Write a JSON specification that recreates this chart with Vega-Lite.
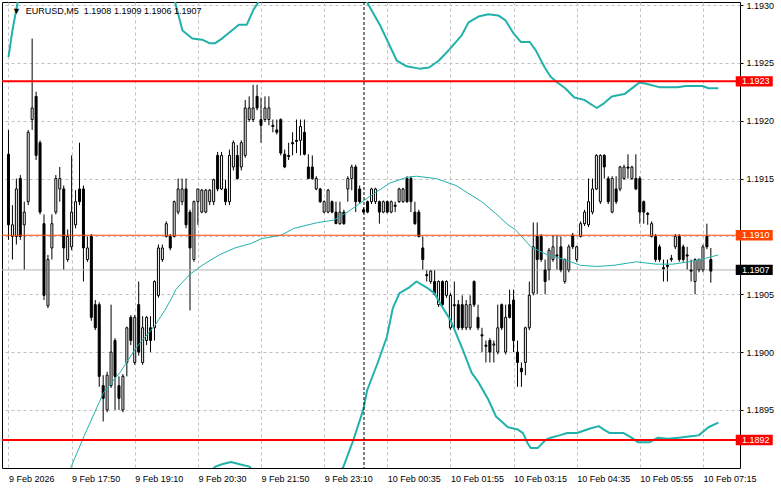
{
"$schema": "https://vega.github.io/schema/vega-lite/v6.json",
"width": 738, "height": 466,
"autosize": {"type": "none"},
"padding": {"left": 2, "top": 2, "right": 41, "bottom": 21},
"background": "white",
"config": {"view": {"stroke": "black", "strokeWidth": 1}, "font": "Liberation Sans",
 "axisX": {"grid":true,"gridColor":"#c0c0c0","gridDash":[3,3],"gridWidth":1,"domain":false,
    "tickSize":4,"tickColor":"black","tickOpacity":{"condition":{"test":"datum.value % 16 === 0","value":1},"value":0},
    "labelExpr":"datum.value % 16 === 0 ? ['9 Feb 2026','9 Feb 17:50','9 Feb 19:10','9 Feb 20:30','9 Feb 21:50','9 Feb 23:10','10 Feb 00:35','10 Feb 01:55','10 Feb 03:15','10 Feb 04:35','10 Feb 05:55','10 Feb 07:15'][datum.value / 16] : ''",
    "labelAlign":"left","labelBaseline":"top","labelPadding":2,"labelFont":"Liberation Sans","labelFontSize":9,"labelColor":"black",
    "labelOverlap":false,"labelBound":false,"labelFlush":false,"title":null},
 "axisY": {"grid":true,"gridColor":"#c0c0c0","gridDash":[3,3],"gridWidth":1,"domain":false,
    "tickSize":3,"tickColor":"black","labelPadding":3,"labelFont":"Liberation Sans","labelFontSize":9,"labelColor":"black",
    "labelAlign":"left","labelBaseline":"middle",
    "labelExpr":"abs(datum.value - 1.191) < 0.00001 ? '' : datum.label",
    "labelOverlap":false,"labelFlush":false,"labelBound":false,"title":null}
},
"datasets": {
"candles": [
{"i":0,"o":1.19171,"h":1.19192,"l":1.19097,"c":1.19110},
{"i":1,"o":1.19100,"h":1.19127,"l":1.19080,"c":1.19110},
{"i":2,"o":1.19100,"h":1.19150,"l":1.19093,"c":1.19141},
{"i":3,"o":1.19150,"h":1.19153,"l":1.19097,"c":1.19100},
{"i":4,"o":1.19110,"h":1.19130,"l":1.19071,"c":1.19121},
{"i":5,"o":1.19130,"h":1.19192,"l":1.19127,"c":1.19190},
{"i":6,"o":1.19201,"h":1.19271,"l":1.19192,"c":1.19211},
{"i":7,"o":1.19221,"h":1.19225,"l":1.19166,"c":1.19170},
{"i":8,"o":1.19181,"h":1.19183,"l":1.19119,"c":1.19121},
{"i":9,"o":1.19111,"h":1.19119,"l":1.19045,"c":1.19049},
{"i":10,"o":1.19040,"h":1.19084,"l":1.19038,"c":1.19080},
{"i":11,"o":1.19090,"h":1.19119,"l":1.19080,"c":1.19111},
{"i":12,"o":1.19121,"h":1.19153,"l":1.19119,"c":1.19150},
{"i":13,"o":1.19141,"h":1.19160,"l":1.19130,"c":1.19150},
{"i":14,"o":1.19141,"h":1.19144,"l":1.19071,"c":1.19090},
{"i":15,"o":1.19080,"h":1.19106,"l":1.19078,"c":1.19100},
{"i":16,"o":1.19091,"h":1.19170,"l":1.19088,"c":1.19121},
{"i":17,"o":1.19110,"h":1.19140,"l":1.19107,"c":1.19130},
{"i":18,"o":1.19141,"h":1.19181,"l":1.19127,"c":1.19130},
{"i":19,"o":1.19141,"h":1.19144,"l":1.19061,"c":1.19090},
{"i":20,"o":1.19080,"h":1.19100,"l":1.19078,"c":1.19090},
{"i":21,"o":1.19100,"h":1.19102,"l":1.19027,"c":1.19030},
{"i":22,"o":1.19041,"h":1.19045,"l":1.19019,"c":1.19021},
{"i":23,"o":1.19041,"h":1.19043,"l":1.18970,"c":1.18979},
{"i":24,"o":1.18971,"h":1.18980,"l":1.18940,"c":1.18960},
{"i":25,"o":1.18950,"h":1.18983,"l":1.18948,"c":1.18980},
{"i":26,"o":1.18971,"h":1.19041,"l":1.18969,"c":1.19000},
{"i":27,"o":1.19010,"h":1.19012,"l":1.18950,"c":1.18979},
{"i":28,"o":1.18971,"h":1.18979,"l":1.18950,"c":1.18960},
{"i":29,"o":1.18950,"h":1.18981,"l":1.18948,"c":1.18979},
{"i":30,"o":1.18991,"h":1.19022,"l":1.18979,"c":1.19021},
{"i":31,"o":1.19030,"h":1.19032,"l":1.19006,"c":1.19010},
{"i":32,"o":1.18991,"h":1.19032,"l":1.18989,"c":1.19030},
{"i":33,"o":1.19041,"h":1.19061,"l":1.18997,"c":1.19000},
{"i":34,"o":1.18991,"h":1.19031,"l":1.18989,"c":1.19021},
{"i":35,"o":1.19010,"h":1.19031,"l":1.19006,"c":1.19030},
{"i":36,"o":1.19021,"h":1.19031,"l":1.19000,"c":1.19010},
{"i":37,"o":1.19021,"h":1.19062,"l":1.19010,"c":1.19061},
{"i":38,"o":1.19049,"h":1.19093,"l":1.19047,"c":1.19090},
{"i":39,"o":1.19080,"h":1.19093,"l":1.19078,"c":1.19090},
{"i":40,"o":1.19100,"h":1.19113,"l":1.19099,"c":1.19111},
{"i":41,"o":1.19100,"h":1.19102,"l":1.19088,"c":1.19090},
{"i":42,"o":1.19100,"h":1.19131,"l":1.19099,"c":1.19130},
{"i":43,"o":1.19121,"h":1.19150,"l":1.19119,"c":1.19141},
{"i":44,"o":1.19130,"h":1.19150,"l":1.19127,"c":1.19141},
{"i":45,"o":1.19141,"h":1.19150,"l":1.19107,"c":1.19110},
{"i":46,"o":1.19121,"h":1.19123,"l":1.19036,"c":1.19090},
{"i":47,"o":1.19080,"h":1.19131,"l":1.19078,"c":1.19130},
{"i":48,"o":1.19130,"h":1.19141,"l":1.19110,"c":1.19141},
{"i":49,"o":1.19121,"h":1.19141,"l":1.19120,"c":1.19140},
{"i":50,"o":1.19121,"h":1.19141,"l":1.19120,"c":1.19140},
{"i":51,"o":1.19130,"h":1.19141,"l":1.19127,"c":1.19140},
{"i":52,"o":1.19130,"h":1.19150,"l":1.19127,"c":1.19149},
{"i":53,"o":1.19170,"h":1.19173,"l":1.19139,"c":1.19141},
{"i":54,"o":1.19141,"h":1.19173,"l":1.19140,"c":1.19170},
{"i":55,"o":1.19141,"h":1.19149,"l":1.19127,"c":1.19130},
{"i":56,"o":1.19130,"h":1.19175,"l":1.19127,"c":1.19170},
{"i":57,"o":1.19160,"h":1.19183,"l":1.19157,"c":1.19181},
{"i":58,"o":1.19170,"h":1.19179,"l":1.19149,"c":1.19150},
{"i":59,"o":1.19160,"h":1.19183,"l":1.19157,"c":1.19181},
{"i":60,"o":1.19170,"h":1.19218,"l":1.19168,"c":1.19211},
{"i":61,"o":1.19201,"h":1.19221,"l":1.19199,"c":1.19211},
{"i":62,"o":1.19201,"h":1.19231,"l":1.19199,"c":1.19211},
{"i":63,"o":1.19221,"h":1.19231,"l":1.19209,"c":1.19211},
{"i":64,"o":1.19201,"h":1.19220,"l":1.19181,"c":1.19196},
{"i":65,"o":1.19201,"h":1.19221,"l":1.19199,"c":1.19211},
{"i":66,"o":1.19201,"h":1.19221,"l":1.19196,"c":1.19211},
{"i":67,"o":1.19196,"h":1.19201,"l":1.19190,"c":1.19195},
{"i":68,"o":1.19192,"h":1.19201,"l":1.19188,"c":1.19190},
{"i":69,"o":1.19201,"h":1.19202,"l":1.19170,"c":1.19172},
{"i":70,"o":1.19171,"h":1.19175,"l":1.19159,"c":1.19160},
{"i":71,"o":1.19170,"h":1.19181,"l":1.19166,"c":1.19169},
{"i":72,"o":1.19181,"h":1.19190,"l":1.19170,"c":1.19180},
{"i":73,"o":1.19183,"h":1.19201,"l":1.19172,"c":1.19182},
{"i":74,"o":1.19183,"h":1.19201,"l":1.19170,"c":1.19195},
{"i":75,"o":1.19190,"h":1.19201,"l":1.19170,"c":1.19171},
{"i":76,"o":1.19160,"h":1.19171,"l":1.19150,"c":1.19150},
{"i":77,"o":1.19160,"h":1.19170,"l":1.19149,"c":1.19150},
{"i":78,"o":1.19141,"h":1.19152,"l":1.19140,"c":1.19150},
{"i":79,"o":1.19141,"h":1.19142,"l":1.19129,"c":1.19130},
{"i":80,"o":1.19121,"h":1.19131,"l":1.19120,"c":1.19130},
{"i":81,"o":1.19121,"h":1.19141,"l":1.19120,"c":1.19140},
{"i":82,"o":1.19130,"h":1.19131,"l":1.19120,"c":1.19121},
{"i":83,"o":1.19121,"h":1.19130,"l":1.19111,"c":1.19111},
{"i":84,"o":1.19111,"h":1.19130,"l":1.19110,"c":1.19121},
{"i":85,"o":1.19121,"h":1.19123,"l":1.19110,"c":1.19111},
{"i":86,"o":1.19141,"h":1.19152,"l":1.19130,"c":1.19150},
{"i":87,"o":1.19150,"h":1.19162,"l":1.19140,"c":1.19160},
{"i":88,"o":1.19160,"h":1.19162,"l":1.19121,"c":1.19130},
{"i":89,"o":1.19141,"h":1.19144,"l":1.19128,"c":1.19130},
{"i":90,"o":1.19123,"h":1.19125,"l":1.19120,"c":1.19121},
{"i":91,"o":1.19130,"h":1.19131,"l":1.19120,"c":1.19121},
{"i":92,"o":1.19130,"h":1.19142,"l":1.19128,"c":1.19141},
{"i":93,"o":1.19130,"h":1.19142,"l":1.19128,"c":1.19141},
{"i":94,"o":1.19130,"h":1.19131,"l":1.19111,"c":1.19121},
{"i":95,"o":1.19121,"h":1.19131,"l":1.19120,"c":1.19130},
{"i":96,"o":1.19130,"h":1.19131,"l":1.19120,"c":1.19121},
{"i":97,"o":1.19121,"h":1.19131,"l":1.19120,"c":1.19130},
{"i":98,"o":1.19127,"h":1.19130,"l":1.19121,"c":1.19126},
{"i":99,"o":1.19130,"h":1.19142,"l":1.19129,"c":1.19141},
{"i":100,"o":1.19130,"h":1.19142,"l":1.19129,"c":1.19141},
{"i":101,"o":1.19150,"h":1.19152,"l":1.19129,"c":1.19130},
{"i":102,"o":1.19150,"h":1.19152,"l":1.19121,"c":1.19130},
{"i":103,"o":1.19121,"h":1.19130,"l":1.19110,"c":1.19111},
{"i":104,"o":1.19121,"h":1.19123,"l":1.19099,"c":1.19100},
{"i":105,"o":1.19090,"h":1.19100,"l":1.19071,"c":1.19080},
{"i":106,"o":1.19067,"h":1.19071,"l":1.19061,"c":1.19066},
{"i":107,"o":1.19061,"h":1.19071,"l":1.19059,"c":1.19070},
{"i":108,"o":1.19061,"h":1.19071,"l":1.19049,"c":1.19050},
{"i":109,"o":1.19041,"h":1.19062,"l":1.19039,"c":1.19061},
{"i":110,"o":1.19061,"h":1.19062,"l":1.19040,"c":1.19041},
{"i":111,"o":1.19049,"h":1.19062,"l":1.19047,"c":1.19061},
{"i":112,"o":1.19021,"h":1.19051,"l":1.19019,"c":1.19049},
{"i":113,"o":1.19041,"h":1.19061,"l":1.19021,"c":1.19040},
{"i":114,"o":1.19041,"h":1.19045,"l":1.19019,"c":1.19021},
{"i":115,"o":1.19041,"h":1.19049,"l":1.19019,"c":1.19021},
{"i":116,"o":1.19021,"h":1.19045,"l":1.19019,"c":1.19041},
{"i":117,"o":1.19021,"h":1.19049,"l":1.19019,"c":1.19041},
{"i":118,"o":1.19061,"h":1.19062,"l":1.19039,"c":1.19041},
{"i":119,"o":1.19030,"h":1.19041,"l":1.19019,"c":1.19021},
{"i":120,"o":1.19015,"h":1.19021,"l":1.19000,"c":1.19014},
{"i":121,"o":1.19006,"h":1.19010,"l":1.18991,"c":1.19005},
{"i":122,"o":1.19010,"h":1.19012,"l":1.18991,"c":1.19000},
{"i":123,"o":1.19006,"h":1.19010,"l":1.18991,"c":1.19007},
{"i":124,"o":1.19000,"h":1.19041,"l":1.18998,"c":1.19021},
{"i":125,"o":1.19041,"h":1.19042,"l":1.19019,"c":1.19021},
{"i":126,"o":1.19000,"h":1.19041,"l":1.18998,"c":1.19030},
{"i":127,"o":1.19041,"h":1.19054,"l":1.19029,"c":1.19030},
{"i":128,"o":1.19045,"h":1.19054,"l":1.19000,"c":1.19010},
{"i":129,"o":1.19000,"h":1.19010,"l":1.18970,"c":1.18991},
{"i":130,"o":1.18986,"h":1.18991,"l":1.18970,"c":1.18983},
{"i":131,"o":1.18991,"h":1.19022,"l":1.18980,"c":1.19021},
{"i":132,"o":1.19021,"h":1.19061,"l":1.19019,"c":1.19049},
{"i":133,"o":1.19051,"h":1.19112,"l":1.19049,"c":1.19091},
{"i":134,"o":1.19100,"h":1.19112,"l":1.19050,"c":1.19080},
{"i":135,"o":1.19100,"h":1.19102,"l":1.19078,"c":1.19080},
{"i":136,"o":1.19071,"h":1.19080,"l":1.19050,"c":1.19061},
{"i":137,"o":1.19071,"h":1.19090,"l":1.19062,"c":1.19088},
{"i":138,"o":1.19080,"h":1.19101,"l":1.19078,"c":1.19091},
{"i":139,"o":1.19084,"h":1.19101,"l":1.19071,"c":1.19083},
{"i":140,"o":1.19091,"h":1.19100,"l":1.19069,"c":1.19071},
{"i":141,"o":1.19061,"h":1.19081,"l":1.19059,"c":1.19080},
{"i":142,"o":1.19071,"h":1.19093,"l":1.19069,"c":1.19091},
{"i":143,"o":1.19101,"h":1.19103,"l":1.19089,"c":1.19091},
{"i":144,"o":1.19080,"h":1.19092,"l":1.19078,"c":1.19091},
{"i":145,"o":1.19100,"h":1.19113,"l":1.19099,"c":1.19111},
{"i":146,"o":1.19111,"h":1.19123,"l":1.19109,"c":1.19121},
{"i":147,"o":1.19110,"h":1.19150,"l":1.19108,"c":1.19130},
{"i":148,"o":1.19121,"h":1.19150,"l":1.19119,"c":1.19141},
{"i":149,"o":1.19141,"h":1.19171,"l":1.19140,"c":1.19170},
{"i":150,"o":1.19130,"h":1.19171,"l":1.19128,"c":1.19170},
{"i":151,"o":1.19170,"h":1.19171,"l":1.19150,"c":1.19160},
{"i":152,"o":1.19150,"h":1.19152,"l":1.19128,"c":1.19130},
{"i":153,"o":1.19121,"h":1.19152,"l":1.19120,"c":1.19150},
{"i":154,"o":1.19141,"h":1.19152,"l":1.19128,"c":1.19130},
{"i":155,"o":1.19141,"h":1.19161,"l":1.19139,"c":1.19160},
{"i":156,"o":1.19150,"h":1.19162,"l":1.19149,"c":1.19160},
{"i":157,"o":1.19160,"h":1.19171,"l":1.19150,"c":1.19159},
{"i":158,"o":1.19150,"h":1.19161,"l":1.19149,"c":1.19160},
{"i":159,"o":1.19150,"h":1.19171,"l":1.19140,"c":1.19141},
{"i":160,"o":1.19150,"h":1.19152,"l":1.19111,"c":1.19121},
{"i":161,"o":1.19130,"h":1.19131,"l":1.19111,"c":1.19121},
{"i":162,"o":1.19120,"h":1.19121,"l":1.19110,"c":1.19119},
{"i":163,"o":1.19100,"h":1.19113,"l":1.19099,"c":1.19111},
{"i":164,"o":1.19100,"h":1.19102,"l":1.19078,"c":1.19080},
{"i":165,"o":1.19091,"h":1.19093,"l":1.19078,"c":1.19080},
{"i":166,"o":1.19073,"h":1.19080,"l":1.19061,"c":1.19072},
{"i":167,"o":1.19075,"h":1.19080,"l":1.19061,"c":1.19074},
{"i":168,"o":1.19081,"h":1.19084,"l":1.19078,"c":1.19080},
{"i":169,"o":1.19091,"h":1.19102,"l":1.19089,"c":1.19100},
{"i":170,"o":1.19100,"h":1.19102,"l":1.19078,"c":1.19080},
{"i":171,"o":1.19091,"h":1.19093,"l":1.19078,"c":1.19080},
{"i":172,"o":1.19084,"h":1.19091,"l":1.19071,"c":1.19083},
{"i":173,"o":1.19071,"h":1.19080,"l":1.19061,"c":1.19070},
{"i":174,"o":1.19061,"h":1.19081,"l":1.19050,"c":1.19080},
{"i":175,"o":1.19071,"h":1.19081,"l":1.19069,"c":1.19080},
{"i":176,"o":1.19071,"h":1.19093,"l":1.19069,"c":1.19091},
{"i":177,"o":1.19100,"h":1.19111,"l":1.19089,"c":1.19091},
{"i":178,"o":1.19080,"h":1.19090,"l":1.19060,"c":1.19070}
],
"bands": [
{"b":"u","i":0,"v":1.19255},{"b":"u","i":1,"v":1.19278},{"b":"u","i":2.4,"v":1.19304},{"b":"u","i":5,"v":1.19330},{"b":"u","i":15,"v":1.19365},{"b":"u","i":30,"v":1.19356},{"b":"u","i":40,"v":1.19322},{"b":"u","i":42.1,"v":1.19304},{"b":"u","i":44.1,"v":1.19278},{"b":"u","i":46.6,"v":1.19271},{"b":"u","i":49.1,"v":1.19270},{"b":"u","i":50.9,"v":1.19267},{"b":"u","i":52.4,"v":1.19267},{"b":"u","i":54.1,"v":1.19271},{"b":"u","i":58.4,"v":1.19283},{"b":"u","i":60.4,"v":1.19283},{"b":"u","i":62.1,"v":1.19296},{"b":"u","i":63.6,"v":1.19304},{"b":"u","i":66,"v":1.19330},{"b":"u","i":75,"v":1.19356},{"b":"u","i":85,"v":1.19339},{"b":"u","i":90.6,"v":1.19304},{"b":"u","i":94.1,"v":1.19283},{"b":"u","i":96.6,"v":1.19265},{"b":"u","i":98.4,"v":1.19252},{"b":"u","i":100.9,"v":1.19247},{"b":"u","i":104.1,"v":1.19245},{"b":"u","i":106.6,"v":1.19246},{"b":"u","i":109.1,"v":1.19252},{"b":"u","i":111.6,"v":1.19261},{"b":"u","i":114.9,"v":1.19274},{"b":"u","i":116.6,"v":1.19285},{"b":"u","i":119.1,"v":1.19290},{"b":"u","i":121.6,"v":1.19292},{"b":"u","i":124.1,"v":1.19291},{"b":"u","i":125.9,"v":1.19287},{"b":"u","i":127.9,"v":1.19276},{"b":"u","i":129.9,"v":1.19268},{"b":"u","i":132.1,"v":1.19268},{"b":"u","i":133.6,"v":1.19261},{"b":"u","i":135.9,"v":1.19246},{"b":"u","i":137.4,"v":1.19238},{"b":"u","i":139.1,"v":1.19233},{"b":"u","i":141.1,"v":1.19228},{"b":"u","i":143.4,"v":1.19220},{"b":"u","i":145.9,"v":1.19218},{"b":"u","i":149.1,"v":1.19211},{"b":"u","i":150.9,"v":1.19215},{"b":"u","i":152.9,"v":1.19221},{"b":"u","i":156.1,"v":1.19223},{"b":"u","i":158.4,"v":1.19229},{"b":"u","i":159.9,"v":1.19233},{"b":"u","i":161.6,"v":1.19232},{"b":"u","i":164.9,"v":1.19229},{"b":"u","i":169.6,"v":1.19229},{"b":"u","i":171.6,"v":1.19230},{"b":"u","i":175.9,"v":1.19230},{"b":"u","i":177.4,"v":1.19228},{"b":"u","i":179.9,"v":1.19228},
{"b":"l","i":0,"v":1.18800},{"b":"l","i":20,"v":1.18820},{"b":"l","i":35,"v":1.18850},{"b":"l","i":45,"v":1.18872},{"b":"l","i":49.1,"v":1.18889},{"b":"l","i":52.4,"v":1.18901},{"b":"l","i":54.1,"v":1.18903},{"b":"l","i":56.4,"v":1.18905},{"b":"l","i":58.6,"v":1.18903},{"b":"l","i":61.1,"v":1.18901},{"b":"l","i":63.6,"v":1.18889},{"b":"l","i":70,"v":1.18855},{"b":"l","i":78,"v":1.18864},{"b":"l","i":84.9,"v":1.18901},{"b":"l","i":87.4,"v":1.18924},{"b":"l","i":89.9,"v":1.18950},{"b":"l","i":90.9,"v":1.18967},{"b":"l","i":93.6,"v":1.18991},{"b":"l","i":95.9,"v":1.19013},{"b":"l","i":97.4,"v":1.19038},{"b":"l","i":99.1,"v":1.19051},{"b":"l","i":101.6,"v":1.19056},{"b":"l","i":103.4,"v":1.19061},{"b":"l","i":105.9,"v":1.19056},{"b":"l","i":107.9,"v":1.19051},{"b":"l","i":109.6,"v":1.19041},{"b":"l","i":112.1,"v":1.19027},{"b":"l","i":114.9,"v":1.19004},{"b":"l","i":117.4,"v":1.18982},{"b":"l","i":119.1,"v":1.18974},{"b":"l","i":121.6,"v":1.18959},{"b":"l","i":123.6,"v":1.18944},{"b":"l","i":126.6,"v":1.18935},{"b":"l","i":129.1,"v":1.18933},{"b":"l","i":130.4,"v":1.18930},{"b":"l","i":131.6,"v":1.18921},{"b":"l","i":132.4,"v":1.18917},{"b":"l","i":134.1,"v":1.18917},{"b":"l","i":136.1,"v":1.18924},{"b":"l","i":137.4,"v":1.18926},{"b":"l","i":139.6,"v":1.18928},{"b":"l","i":141.6,"v":1.18930},{"b":"l","i":144.1,"v":1.18930},{"b":"l","i":147.4,"v":1.18934},{"b":"l","i":149.6,"v":1.18936},{"b":"l","i":150.9,"v":1.18933},{"b":"l","i":152.4,"v":1.18930},{"b":"l","i":155.9,"v":1.18930},{"b":"l","i":157.9,"v":1.18926},{"b":"l","i":159.6,"v":1.18922},{"b":"l","i":162.4,"v":1.18922},{"b":"l","i":164.6,"v":1.18926},{"b":"l","i":167.1,"v":1.18925},{"b":"l","i":169.9,"v":1.18926},{"b":"l","i":172.4,"v":1.18927},{"b":"l","i":174.9,"v":1.18928},{"b":"l","i":177.4,"v":1.18935},{"b":"l","i":179.9,"v":1.18939},
{"b":"m","i":12,"v":1.18855},{"b":"m","i":15.9,"v":1.18901},{"b":"m","i":19.1,"v":1.18927},{"b":"m","i":24.1,"v":1.18965},{"b":"m","i":28.4,"v":1.18983},{"b":"m","i":32.4,"v":1.19004},{"b":"m","i":37.1,"v":1.19023},{"b":"m","i":39.6,"v":1.19036},{"b":"m","i":41.1,"v":1.19045},{"b":"m","i":42.4,"v":1.19054},{"b":"m","i":45.9,"v":1.19067},{"b":"m","i":49.1,"v":1.19075},{"b":"m","i":53.4,"v":1.19084},{"b":"m","i":57.4,"v":1.19090},{"b":"m","i":61.6,"v":1.19094},{"b":"m","i":64.1,"v":1.19098},{"b":"m","i":69.1,"v":1.19101},{"b":"m","i":72.4,"v":1.19107},{"b":"m","i":78.4,"v":1.19112},{"b":"m","i":82.4,"v":1.19114},{"b":"m","i":85.9,"v":1.19121},{"b":"m","i":90.9,"v":1.19133},{"b":"m","i":96.6,"v":1.19146},{"b":"m","i":100.9,"v":1.19151},{"b":"m","i":103.4,"v":1.19152},{"b":"m","i":108.4,"v":1.19150},{"b":"m","i":113.4,"v":1.19144},{"b":"m","i":119.9,"v":1.19130},{"b":"m","i":123.4,"v":1.19120},{"b":"m","i":126.6,"v":1.19110},{"b":"m","i":128.4,"v":1.19106},{"b":"m","i":132.4,"v":1.19091},{"b":"m","i":136.6,"v":1.19084},{"b":"m","i":140.9,"v":1.19080},{"b":"m","i":144.9,"v":1.19075},{"b":"m","i":149.1,"v":1.19074},{"b":"m","i":153.4,"v":1.19075},{"b":"m","i":159.1,"v":1.19078},{"b":"m","i":164.1,"v":1.19076},{"b":"m","i":168.4,"v":1.19076},{"b":"m","i":172.4,"v":1.19078},{"b":"m","i":176.6,"v":1.19081},{"b":"m","i":179.9,"v":1.19084}
],
"levels": [
{"p":1.19234,"t":"1.1923","k":"level"},
{"p":1.18924,"t":"1.1892","k":"level"},
{"p":1.19101,"t":"1.1910","k":"ask"},
{"p":1.19071,"t":"1.1907","k":"bid"}
]
},
"layer": [
{"data":{"name":"candles"},
 "mark":{"type":"rule","color":"black","strokeWidth":1},
 "encoding":{
  "x":{"field":"i","type":"quantitative","title":null,"scale":{"domain":[-0.375,184.125],"nice":false,"zero":false},
   "axis":{"values":[0,8,16,24,32,40,48,56,64,72,80,88,96,104,112,120,128,136,144,152,160,168,176]}},
  "y":{"field":"l","type":"quantitative","title":null,"scale":{"domain":[1.188998,1.193026],"nice":false,"zero":false},
   "axis":{"orient":"right","values":[1.1895,1.19,1.1905,1.191,1.1915,1.192,1.1925,1.193],"format":".4f"}},
  "y2":{"field":"h"}}},
{"data":{"name":"levels"},"transform":[{"filter":"datum.k === 'bid'"}],
 "mark":{"type":"rule","color":"#b4b4b4","strokeWidth":1},
 "encoding":{"y":{"field":"p","type":"quantitative","title":null,"scale":{"domain":[1.188998,1.193026],"nice":false,"zero":false}}}},
{"data":{"name":"candles"},
 "mark":{"type":"bar","orient":"vertical","size":2,"stroke":"black","strokeWidth":1},
 "encoding":{
  "x":{"field":"i","type":"quantitative","title":null,"scale":{"domain":[-0.375,184.125],"nice":false,"zero":false}},
  "y":{"field":"o","type":"quantitative","title":null,"scale":{"domain":[1.188998,1.193026],"nice":false,"zero":false}},
  "y2":{"field":"c"},
  "fill":{"condition":{"test":"datum.c < datum.o","value":"black"},"value":"white"}}},
{"data":{"name":"bands"},"transform":[{"filter":"datum.b !== 'm'"}],
 "mark":{"type":"line","color":"#20b2aa","strokeWidth":2,"clip":true,"strokeJoin":"round"},
 "encoding":{
  "x":{"field":"i","type":"quantitative","title":null,"scale":{"domain":[-0.375,184.125],"nice":false,"zero":false}},
  "y":{"field":"v","type":"quantitative","title":null,"scale":{"domain":[1.188998,1.193026],"nice":false,"zero":false}},
  "detail":{"field":"b"}}},
{"data":{"name":"bands"},"transform":[{"filter":"datum.b === 'm'"}],
 "mark":{"type":"line","color":"#20b2aa","strokeWidth":1,"clip":true},
 "encoding":{
  "x":{"field":"i","type":"quantitative","title":null,"scale":{"domain":[-0.375,184.125],"nice":false,"zero":false}},
  "y":{"field":"v","type":"quantitative","title":null,"scale":{"domain":[1.188998,1.193026],"nice":false,"zero":false}}}},
{"data":{"name":"levels"},"transform":[{"filter":"datum.k === 'ask'"}],
 "mark":{"type":"rule","color":"#ff4500","strokeWidth":1},
 "encoding":{"y":{"field":"p","type":"quantitative","title":null,"scale":{"domain":[1.188998,1.193026],"nice":false,"zero":false}}}},
{"data":{"name":"levels"},"transform":[{"filter":"datum.k === 'level'"}],
 "mark":{"type":"rule","color":"#ff0000","strokeWidth":2},
 "encoding":{"y":{"field":"p","type":"quantitative","title":null,"scale":{"domain":[1.188998,1.193026],"nice":false,"zero":false}}}},
{"data":{"values":[{"i":90.1}]},
 "mark":{"type":"rule","color":"black","strokeWidth":1,"strokeDash":[3,2]},
 "encoding":{"x":{"field":"i","type":"quantitative","title":null,"scale":{"domain":[-0.375,184.125],"nice":false,"zero":false}}}},
{"data":{"name":"levels"},
 "mark":{"type":"point","shape":"M0.04,-0.28L2.04,-0.28L2.04,0.28L0.04,0.28Z","size":1369,"filled":true,"opacity":1,"strokeWidth":0,"clip":false},
 "encoding":{
  "x":{"datum":184.125,"type":"quantitative","title":null,"scale":{"domain":[-0.375,184.125],"nice":false,"zero":false}},
  "y":{"field":"p","type":"quantitative","title":null,"scale":{"domain":[1.188998,1.193026],"nice":false,"zero":false}},
  "color":{"field":"k","type":"nominal","scale":{"domain":["level","ask","bid"],"range":["#ff0000","#ff4500","#000000"]},"legend":null}}},
{"data":{"name":"levels"},
 "mark":{"type":"text","color":"white","font":"Liberation Sans","fontSize":9,"align":"left","baseline":"middle","dx":7,"clip":false},
 "encoding":{
  "x":{"datum":184.125,"type":"quantitative","title":null,"scale":{"domain":[-0.375,184.125],"nice":false,"zero":false}},
  "y":{"field":"p","type":"quantitative","title":null,"scale":{"domain":[1.188998,1.193026],"nice":false,"zero":false}},
  "text":{"field":"t"}}},
{"data":{"values":[{"t":"▼\u00a0\u00a0EURUSD,M5\u00a0\u00a01.1908 1.1909 1.1906 1.1907"}]},
 "mark":{"type":"text","color":"black","font":"Liberation Sans","fontSize":9,"align":"left","baseline":"middle"},
 "encoding":{
  "x":{"datum":0.875,"type":"quantitative","title":null,"scale":{"domain":[-0.375,184.125],"nice":false,"zero":false}},
  "y":{"datum":1.19295,"type":"quantitative","title":null,"scale":{"domain":[1.188998,1.193026],"nice":false,"zero":false}},
  "text":{"field":"t"}}}
]
}
